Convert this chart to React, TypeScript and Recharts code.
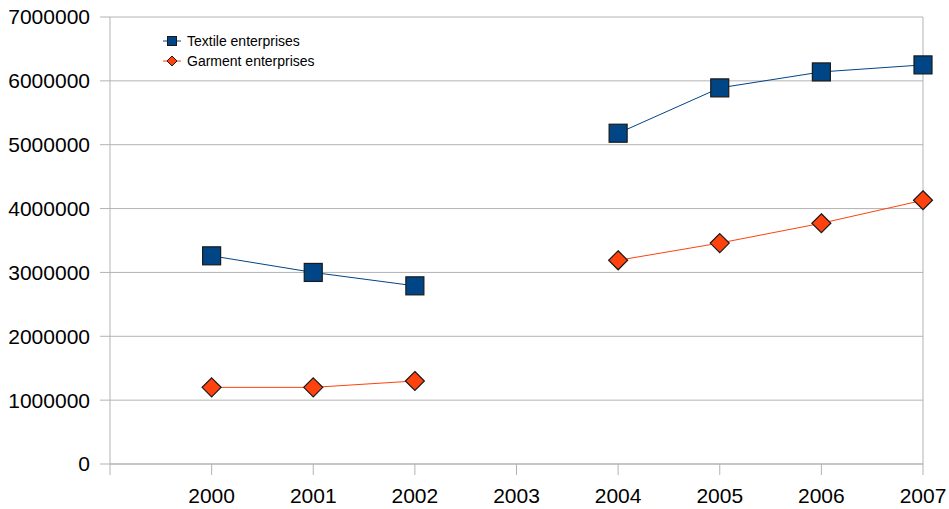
import React from "react";
import { LineChart, Line, XAxis, YAxis, CartesianGrid, ReferenceLine } from "recharts";

const years = [2000, 2001, 2002, 2003, 2004, 2005, 2006, 2007];
const textile: (number | null)[] = [3260000, 3000000, 2790000, null, 5180000, 5890000, 6140000, 6250000];
const garment: (number | null)[] = [1200000, 1200000, 1300000, null, 3190000, 3460000, 3770000, 4130000];
const xTicks = [1999, 2000, 2001, 2002, 2003, 2004, 2005, 2006, 2007];
const yTicks = [0, 1000000, 2000000, 3000000, 4000000, 5000000, 6000000, 7000000];
const seriesNames = ["Textile enterprises", "Garment enterprises"];

const data = years.map((y, i) => ({ year: y, textile: textile[i], garment: garment[i] }));

const BLUE = "#004586";
const ORANGE = "#ff420e";
const GRID = "#b3b3b3";
const FONT = "'Liberation Sans', Arial, sans-serif";

const SquareDot = (props: any) => {
  const { cx, cy, value } = props;
  if (value == null || cx == null || cy == null) return null;
  const s = 18;
  return <rect key={`s-${cx}`} x={cx - s / 2} y={cy - s / 2} width={s} height={s} fill={BLUE} stroke="#1a1a1a" strokeWidth={1.2} />;
};

const DiamondDot = (props: any) => {
  const { cx, cy, value } = props;
  if (value == null || cx == null || cy == null) return null;
  const r = 9.5;
  return (
    <polygon
      key={`d-${cx}`}
      points={`${cx},${cy - r} ${cx + r},${cy} ${cx},${cy + r} ${cx - r},${cy}`}
      fill={ORANGE}
      stroke="#1a1a1a"
      strokeWidth={1.2}
    />
  );
};

const LegendBox = () => (
  <div style={{ position: "absolute", left: 163, top: 31, fontFamily: FONT, fontSize: 14, color: "#000", lineHeight: "20px" }}>
    {seriesNames.map((name, i) => (
      <div key={name} style={{ display: "flex", alignItems: "center", height: 20 }}>
        <svg width={24} height={20} style={{ display: "block" }}>
          <line x1={0} y1={10} x2={18} y2={10} stroke={i === 0 ? BLUE : ORANGE} strokeWidth={1} />
          {i === 0 ? (
            <rect x={4.5} y={5.5} width={9} height={9} fill={BLUE} stroke="#1a1a1a" strokeWidth={1} />
          ) : (
            <polygon points="9,5 14,10 9,15 4,10" fill={ORANGE} stroke="#1a1a1a" strokeWidth={1} />
          )}
        </svg>
        <span>{name}</span>
      </div>
    ))}
  </div>
);

export default function App() {
  return (
    <div style={{ position: "absolute", left: 0, top: 0, width: 949, height: 509, background: "#fff" }}>
      <LineChart width={949} height={509} data={data} margin={{ top: 17, right: 26, bottom: 0, left: 0 }}>
        <CartesianGrid vertical={false} stroke={GRID} strokeWidth={1} />
        <XAxis
          dataKey="year"
          type="number"
          domain={[1999, 2007]}
          ticks={xTicks}
          tickFormatter={(v: number) => (v === 1999 ? "" : String(v))}
          height={45}
          tickSize={11}
          tickMargin={13}
          stroke={GRID}
          tick={{ fill: "#000", fontSize: 21, fontFamily: FONT }}
          tickLine={{ stroke: GRID }}
          axisLine={{ stroke: GRID }}
          interval={0}
        />
        <YAxis
          domain={[0, 7000000]}
          ticks={yTicks}
          width={110}
          tickSize={10}
          tickMargin={10}
          stroke={GRID}
          tick={{ fill: "#000", fontSize: 21, fontFamily: FONT }}
          tickLine={{ stroke: GRID }}
          axisLine={{ stroke: GRID }}
          interval={0}
        />
        <ReferenceLine x={2007} stroke={GRID} strokeWidth={1} />
        <Line
          type="linear"
          dataKey="textile"
          name={seriesNames[0]}
          stroke={BLUE}
          strokeWidth={1}
          dot={<SquareDot />}
          activeDot={false}
          connectNulls={false}
          isAnimationActive={false}
        />
        <Line
          type="linear"
          dataKey="garment"
          name={seriesNames[1]}
          stroke={ORANGE}
          strokeWidth={1}
          dot={<DiamondDot />}
          activeDot={false}
          connectNulls={false}
          isAnimationActive={false}
        />
      </LineChart>
      <LegendBox />
    </div>
  );
}
